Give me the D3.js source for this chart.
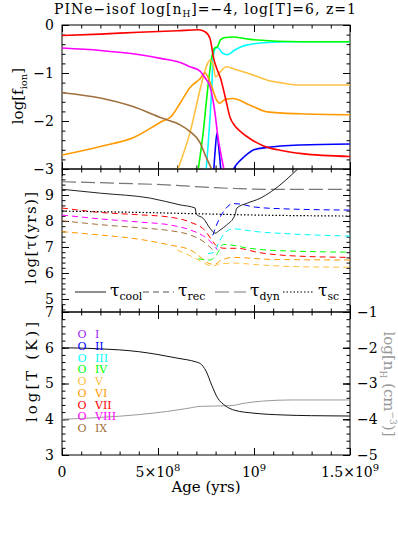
<!DOCTYPE html>
<html>
<head>
<meta charset="utf-8">
<script src="https://cdnjs.cloudflare.com/ajax/libs/d3/7.8.5/d3.min.js"></script>
<style>
  body { margin: 0; background: #fff; }
  svg { display: block; }
  text { font-family: "DejaVu Serif", serif; fill: #000; }
</style>
</head>
<body>
<div id="chart"></div>
<script>
// ---- data (age in yrs) ----
const ionLabels = ["I", "II", "III", "IV", "V", "VI", "VII", "VIII", "IX"];
const ionColors = ["#a020f0", "#0000ff", "#00ffff", "#00ff00", "#ffc040", "#ff9900", "#ff0000", "#ff00ff", "#a0703c"];

// top panel: log f_ion  (null = gap)
const fionII = [[7.9e8,-3.05],[7.98e8,-2.6],[8.07e8,-2.25],[8.15e8,-2.5],[8.28e8,-3.05],[8.5e8,null],
                [8.85e8,-3.05],[9.1e8,-2.9],[9.5e8,-2.74],[1.0e9,-2.6],[1.07e9,-2.55],[1.24e9,-2.5],[1.5e9,-2.48]];
const fionIII = [[7.5e8,-3.05],[7.7e8,-1.98],[7.8e8,-1.29],[7.86e8,-0.73],[7.97e8,-0.5],[8.1e8,-0.47],[8.35e8,-0.58],
                 [8.6e8,-0.62],[9.0e8,-0.52],[9.5e8,-0.43],[1.05e9,-0.37],[1.2e9,-0.35],[1.5e9,-0.35]];
const fionIV = [[7.08e8,-3.05],[7.35e8,-2.25],[7.6e8,-1.29],[7.8e8,-0.67],[7.95e8,-0.48],[8.1e8,-0.45],[8.25e8,-0.31],
                [8.5e8,-0.26],[8.9e8,-0.25],[9.8e8,-0.3],[1.24e9,-0.35],[1.5e9,-0.35]];
const fionV = [[5.99e8,-3.05],[6.7e8,-2.19],[7.19e8,-1.35],[7.55e8,-0.83],[7.71e8,-0.73],[7.85e8,-0.8],[8.0e8,-1.08],
               [8.3e8,-0.95],[8.55e8,-0.87],[9.0e8,-0.92],[9.8e8,-1.02],[1.07e9,-1.15],[1.15e9,-1.21],[1.24e9,-1.25],[1.5e9,-1.25]];
const fionVI = [[0,-2.71],[2e8,-2.53],[3.7e8,-2.35],[5.2e8,-2.01],[5.7e8,-1.9],[6.15e8,-1.63],[6.67e8,-1.3],[7.19e8,-1.12],
                [7.45e8,-1.0],[7.8e8,-1.29],[8.05e8,-1.56],[8.2e8,-1.63],[8.5e8,-1.55],[8.9e8,-1.53],[9.8e8,-1.67],
                [1.07e9,-1.81],[1.24e9,-1.85],[1.5e9,-1.87]];
const fionVII = [[0,-0.22],[2e8,-0.19],[4e8,-0.15],[6e8,-0.12],[7.1e8,-0.1],[7.45e8,-0.14],[7.71e8,-0.28],[7.9e8,-0.7],
                 [8.1e8,-0.95],[8.25e8,-1.1],[8.5e8,-1.5],[8.75e8,-1.92],[9.0e8,-2.1],[9.3e8,-2.22],[9.8e8,-2.37],
                 [1.05e9,-2.52],[1.15e9,-2.62],[1.25e9,-2.68],[1.5e9,-2.74]];
const fionVIII = [[0,-0.48],[2e8,-0.53],[3.7e8,-0.6],[5.2e8,-0.7],[6.15e8,-0.78],[6.67e8,-0.87],[7.19e8,-0.96],
                  [7.45e8,-1.1],[7.71e8,-1.28],[7.86e8,-1.56],[7.97e8,-1.84],[8.12e8,-2.33],[8.33e8,-2.8],[8.45e8,-3.05]];
const fionIX = [[0,-1.41],[2e8,-1.52],[3.7e8,-1.7],[5.2e8,-1.94],[6.15e8,-2.08],[6.67e8,-2.22],[7.19e8,-2.45],
                [7.45e8,-2.7],[7.71e8,-2.93],[7.85e8,-3.05]];
const fionSeries = [null, fionII, fionIII, fionIV, fionV, fionVI, fionVII, fionVIII, fionIX];

// middle panel: log tau (yrs)
const tauCool = [[0,9.22],[2e8,9.07],[4.6e8,8.88],[6.15e8,8.62],[6.93e8,8.5],[7.0e8,8.26],[7.36e8,8.1],[7.71e8,7.72],
                 [7.97e8,7.53],[8.23e8,7.65],[8.58e8,7.85],[9.01e8,8.23],[9.1e8,8.49],[9.62e8,8.68],[1.031e9,8.87],
                 [1.09e9,9.13],[1.235e9,10.05]];
const tauDyn = [[0,9.51],[3e8,9.45],[6e8,9.37],[7.2e8,9.31],[8e8,9.28],[9e8,9.25],[1.05e9,9.22],[1.5e9,9.22]];
const tauSc = [[0,8.38],[4e8,8.33],[7e8,8.28],[1.0e9,8.23],[1.5e9,8.19]];
const tauRecII = [[7.85e8,7.45],[8.0e8,7.75],[8.2e8,8.1],[8.5e8,8.45],[8.9e8,8.67],[9.3e8,8.65],[1.0e9,8.54],[1.15e9,8.47],[1.5e9,8.42]];
const tauRecIII = [[7.6e8,6.75],[7.95e8,6.8],[8.15e8,7.15],[8.5e8,7.55],[8.9e8,7.7],[1.0e9,7.6],[1.2e9,7.5],[1.5e9,7.42]];
const tauRecIV = [[7.1e8,6.55],[7.7e8,6.5],[8.05e8,6.7],[8.4e8,7.1],[8.8e8,7.08],[9.5e8,6.98],[1.1e9,6.87],[1.5e9,6.8]];
const tauRecV = [[6.0e8,6.88],[6.8e8,6.62],[7.3e8,6.42],[7.6e8,6.31],[7.9e8,6.27],[8.2e8,6.35],[8.9e8,6.38],[1.05e9,6.3],[1.2e9,6.25],[1.5e9,6.22]];
const tauRecVI = [[0,7.59],[2e8,7.46],[4e8,7.3],[5.6e8,7.08],[6.7e8,6.88],[7.2e8,6.62],[7.55e8,6.4],[7.95e8,6.33],[8.2e8,6.45],[8.9e8,6.6],[1.1e9,6.52],[1.5e9,6.5]];
const tauRecVII = [[0,8.5],[2e8,8.33],[4e8,8.24],[5.6e8,8.15],[6.7e8,7.95],[7.45e8,7.63],[7.8e8,7.27],[8.1e8,7.01],[8.5e8,6.95],
                   [9.1e8,6.95],[1.03e9,6.78],[1.2e9,6.66],[1.5e9,6.6]];
const tauRecVIII = [[0,8.23],[2e8,8.08],[4e8,7.96],[5.6e8,7.85],[6.7e8,7.65],[7.45e8,7.38],[7.8e8,7.15],[8.0e8,6.96],[8.1e8,6.9]];
const tauRecIX = [[0,8.01],[2e8,7.86],[4e8,7.74],[5.6e8,7.63],[6.7e8,7.46],[7.4e8,7.19],[7.7e8,7.0],[7.85e8,6.9]];
const tauRecSeries = [null, tauRecII, tauRecIII, tauRecIV, tauRecV, tauRecVI, tauRecVII, tauRecVIII, tauRecIX];

// bottom panel: log T (left) and log nH (right)
const logT = [[0,6.0],[1e8,5.99],[2e8,5.97],[3e8,5.94],[4e8,5.89],[5e8,5.81],[6e8,5.71],[7e8,5.6],[7.2e8,5.56],
              [7.5e8,5.35],[7.8e8,4.95],[8.1e8,4.6],[8.5e8,4.38],[9e8,4.25],[1.0e9,4.17],[1.15e9,4.12],[1.3e9,4.1],[1.5e9,4.09]];
const logNH = [[0,-4.0],[2e8,-3.95],[4e8,-3.87],[5.5e8,-3.78],[6.5e8,-3.7],[7.2e8,-3.64],[8e8,-3.63],[8.8e8,-3.62],
               [9.5e8,-3.55],[1.05e9,-3.49],[1.2e9,-3.46],[1.5e9,-3.46]];

// tick labels
const xTickVals = [0, 5e8, 1e9, 1.5e9];
const xTickLabels = [["0", ""], ["5×10", "8"], ["10", "9"], ["1.5×10", "9"]];
const topTickVals = [-3, -2, -1, 0];
const midTickVals = [5, 6, 7, 8, 9];
const botTickVals = [3, 4, 5, 6, 7];
const rightTickVals = [-5, -4, -3, -2, -1];

// ---- layout ----
const w = 398, h = 538;
const x0 = 62, x1 = 350;
const svg = d3.select("#chart").append("svg").attr("width", w).attr("height", h);

const x = d3.scaleLinear().domain([0, 1.5e9]).range([x0, x1]);
const yTop = d3.scaleLinear().domain([-3, 0]).range([169, 25]);
const yMid = d3.scaleLinear().domain([4.5, 10]).range([312, 169]);
const yBot = d3.scaleLinear().domain([3, 7]).range([455, 312]);
const yRight = d3.scaleLinear().domain([-5, -1]).range([455, 312]);

const xMinor = d3.range(0, 1.5e9 + 1, 1e8);
const fmt = d3.format("d");

function axis(axisFn, scale, vals, size, tr, labels, pad) {
  const a = axisFn(scale).tickValues(vals).tickSizeInner(size).tickSizeOuter(0).tickPadding(pad || 8);
  a.tickFormat(labels ? fmt : () => "");
  const g = svg.append("g").attr("transform", tr).call(a);
  g.select(".domain").remove();
  g.attr("font-family", null).attr("font-size", null);
  g.selectAll("line").attr("stroke", "#000").attr("stroke-width", 1);
  g.selectAll("text").style("font-size", "14px");
  return g;
}

function panel(y, major, minor, showLabels) {
  const [b, t] = y.range();
  const id = "clip" + Math.round(t);
  svg.append("clipPath").attr("id", id)
     .append("rect").attr("x", x0).attr("y", t).attr("width", x1 - x0).attr("height", b - t);
  // x ticks on bottom and top edges, pointing in
  axis(d3.axisBottom, x, xTickVals, -7, `translate(0,${b})`, false);
  axis(d3.axisBottom, x, xMinor, -3.5, `translate(0,${b})`, false);
  axis(d3.axisTop, x, xTickVals, -7, `translate(0,${t})`, false);
  axis(d3.axisTop, x, xMinor, -3.5, `translate(0,${t})`, false);
  axis(d3.axisLeft, y, major, -7, `translate(${x0},0)`, showLabels);
  axis(d3.axisLeft, y, minor, -3.5, `translate(${x0},0)`, false);
  axis(d3.axisRight, y, major, -7, `translate(${x1},0)`, false);
  axis(d3.axisRight, y, minor, -3.5, `translate(${x1},0)`, false);
  svg.append("rect").attr("x", x0).attr("y", t).attr("width", x1 - x0).attr("height", b - t)
     .attr("fill", "none").attr("stroke", "#000").attr("stroke-width", 1);
  return "url(#" + id + ")";
}

const lineOf = (y) => d3.line()
  .defined((d) => d[1] !== null)
  .x((d) => x(d[0]))
  .y((d) => y(d[1]))
  .curve(d3.curveMonotoneX);

// ---- top panel ----
const clipTop = panel(yTop, topTickVals, d3.range(-3, 0.001, 0.2), true);
const gTop = svg.append("g").attr("clip-path", clipTop);
fionSeries.forEach((s, i) => {
  if (!s) return;
  gTop.append("path").attr("d", lineOf(yTop)(s))
      .attr("fill", "none").attr("stroke", ionColors[i]).attr("stroke-width", 1.6);
});

// ---- middle panel ----
const clipMid = panel(yMid, midTickVals, d3.range(4.6, 10.001, 0.2), true);
const gMid = svg.append("g").attr("clip-path", clipMid);
tauRecSeries.forEach((s, i) => {
  if (!s) return;
  gMid.append("path").attr("d", lineOf(yMid)(s))
      .attr("fill", "none").attr("stroke", ionColors[i]).attr("stroke-width", 1)
      .attr("stroke-dasharray", "6,4");
});
gMid.append("path").attr("d", lineOf(yMid)(tauDyn))
    .attr("fill", "none").attr("stroke", "#777").attr("stroke-width", 1.2).attr("stroke-dasharray", "14,5");
gMid.append("path").attr("d", lineOf(yMid)(tauSc))
    .attr("fill", "none").attr("stroke", "#000").attr("stroke-width", 1.2).attr("stroke-dasharray", "1.5,2");
gMid.append("path").attr("d", lineOf(yMid)(tauCool))
    .attr("fill", "none").attr("stroke", "#222").attr("stroke-width", 1);

// legend for the timescales
const legY = 292;
const legItems = [
  { x: 75, dash: null, col: "#333", sub: "cool" },
  { x: 143, dash: "6,4", col: "#555", sub: "rec" },
  { x: 215, dash: "14,5", col: "#777", sub: "dyn" },
  { x: 283, dash: "1.5,2", col: "#000", sub: "sc" }
];
legItems.forEach((d) => {
  svg.append("line").attr("x1", d.x).attr("x2", d.x + 31).attr("y1", legY).attr("y2", legY)
     .attr("stroke", d.col).attr("stroke-width", 1.1).attr("stroke-dasharray", d.dash);
  const t = svg.append("text").attr("x", d.x + 35).attr("y", legY + 4).style("font-size", "17px");
  t.append("tspan").text("τ");
  t.append("tspan").attr("dy", 4).style("font-size", "11px").text(d.sub);
});

// ---- bottom panel ----
const clipBot = panel(yBot, botTickVals, d3.range(3, 7.001, 0.2), true);
axis(d3.axisRight, yRight, rightTickVals, -7, `translate(${x1},0)`, true, 7);
const gBot = svg.append("g").attr("clip-path", clipBot);
gBot.append("path").attr("d", lineOf(yRight)(logNH))
    .attr("fill", "none").attr("stroke", "#999").attr("stroke-width", 1);
gBot.append("path").attr("d", lineOf(yBot)(logT))
    .attr("fill", "none").attr("stroke", "#111").attr("stroke-width", 1);

// ion legend
ionLabels.forEach((lab, i) => {
  const yy = 334 + i * 11.75;
  svg.append("text").attr("x", 82).attr("y", yy + 4).attr("text-anchor", "middle")
     .style("font-size", "11px").style("fill", ionColors[i]).text("O");
  svg.append("text").attr("x", 95).attr("y", yy + 4)
     .style("font-size", "11px").style("fill", ionColors[i]).text(lab);
});

// x tick labels
xTickVals.forEach((v, i) => {
  const t = svg.append("text").attr("x", x(v)).attr("y", 477).attr("text-anchor", "middle").style("font-size", "14px");
  t.append("tspan").text(xTickLabels[i][0]);
  if (xTickLabels[i][1]) t.append("tspan").attr("dy", -6).style("font-size", "10px").text(xTickLabels[i][1]);
});

// ---- titles ----
const title = svg.append("text").attr("x", 205).attr("y", 14).attr("text-anchor", "middle")
                 .style("font-size", "14px").attr("textLength", 302).attr("lengthAdjust", "spacing");
title.append("tspan").text("PINe−isof  log[n");
title.append("tspan").attr("dy", 3).style("font-size", "9px").text("H");
title.append("tspan").attr("dy", -3).text("]=−4,  log[T]=6,  z=1");

svg.append("text").attr("x", 206).attr("y", 492).attr("text-anchor", "middle")
   .style("font-size", "15px").text("Age (yrs)");

const yl1 = svg.append("text").attr("transform", "translate(23,96) rotate(-90)").attr("text-anchor", "middle")
               .style("font-size", "15px");
yl1.append("tspan").text("log[f");
yl1.append("tspan").attr("dy", 4).style("font-size", "10px").text("ion");
yl1.append("tspan").attr("dy", -4).text("]");

svg.append("text").attr("transform", "translate(36,238) rotate(-90)").attr("text-anchor", "middle")
   .style("font-size", "15px").attr("textLength", 92).attr("lengthAdjust", "spacing").text("log[τ(yrs)]");

svg.append("text").attr("transform", "translate(37,372) rotate(-90)").attr("text-anchor", "middle")
   .style("font-size", "15px").attr("textLength", 100).attr("lengthAdjust", "spacing").text("log[T (K)]");

const yr = svg.append("text").attr("transform", "translate(384,384) rotate(90)").attr("text-anchor", "middle")
              .style("font-size", "15px").style("fill", "#999");
yr.append("tspan").text("log[n");
yr.append("tspan").attr("dy", 4).style("font-size", "9px").style("fill", "#999").text("H");
yr.append("tspan").attr("dy", -4).text(" (cm");
yr.append("tspan").attr("dy", -6).style("font-size", "9px").style("fill", "#999").text("−3");
yr.append("tspan").attr("dy", 6).text(")]");
</script>
</body>
</html>
